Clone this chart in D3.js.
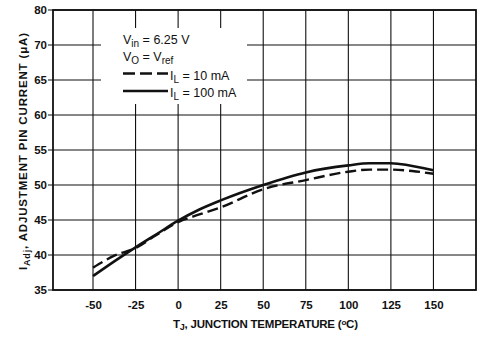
<!DOCTYPE html>
<html>
<head>
<meta charset="utf-8">
<script src="https://cdn.jsdelivr.net/npm/d3@7"></script>
<style>
  html, body { margin: 0; padding: 0; background: #fff; }
  svg { display: block; }
  text { font-family: "Liberation Sans", Arial, Helvetica, sans-serif; fill: #111; }
</style>
</head>
<body>
<svg id="chart" width="483" height="338"></svg>
<script>
// ---- data ----
const xTicks = [-50, -25, 0, 25, 50, 75, 100, 125, 150];
const xTickLabels = ["-50", "-25", "0", "25", "50", "75", "100", "125", "150"];
const yTicks = [35, 40, 45, 50, 55, 60, 65, 70, 75];
const yTickLabels = ["35", "40", "45", "50", "55", "60", "65", "70", "80"];

const temps100 = [-50, -37.5, -25, -12.5, 0, 12.5, 25, 50, 75, 100, 112.5, 125, 130, 150];
const iadj100  = [37.0, 39.1, 41.1, 43.0, 44.9, 46.5, 47.8, 50.0, 51.8, 52.8, 53.1, 53.1, 53.0, 52.1];

const temps10 = [-50, -37.5, -25, -12.5, 0, 12.5, 25, 50, 75, 100, 112.5, 125, 137.5, 150];
const iadj10  = [38.2, 39.9, 41.0, 42.9, 44.7, 45.8, 46.8, 49.4, 50.7, 51.9, 52.2, 52.2, 52.0, 51.6];

const seriesNames = ["10 mA", "100 mA"];

// ---- layout ----
const svg = d3.select("#chart");
const L = 53, R = 476, T = 10, B = 290;
const x = d3.scaleLinear().domain([-73.5, 175]).range([L, R]);
const y = d3.scaleLinear().domain([35, 75]).range([B, T]);

// gridlines
const grid = svg.append("g").attr("stroke", "#111").attr("stroke-width", 1.1);
grid.selectAll("line.v").data(xTicks).join("line")
  .attr("x1", d => x(d)).attr("x2", d => x(d)).attr("y1", T).attr("y2", B);
grid.selectAll("line.h").data(yTicks).join("line")
  .attr("x1", L - 5).attr("x2", R).attr("y1", d => y(d)).attr("y2", d => y(d));

// frame
svg.append("rect").attr("x", L).attr("y", T).attr("width", R - L).attr("height", B - T)
  .attr("fill", "none").attr("stroke", "#111").attr("stroke-width", 1.8);

// y axis labels
const yAxis = d3.axisLeft(y).tickValues(yTicks)
  .tickFormat((d, i) => yTickLabels[i]).tickSize(0).tickPadding(6);
const ya = svg.append("g").attr("transform", `translate(${L},0)`).call(yAxis);
ya.select(".domain").remove();
ya.selectAll("text").attr("font-size", 11.5).attr("font-weight", "bold")
  .attr("font-family", "'Liberation Sans', Arial, sans-serif").attr("fill", "#111");

// x axis labels
const xAxis = d3.axisBottom(x).tickValues(xTicks)
  .tickFormat((d, i) => xTickLabels[i]).tickSize(0).tickPadding(11);
const xa = svg.append("g").attr("transform", `translate(0,${B})`).call(xAxis);
xa.select(".domain").remove();
xa.selectAll("text").attr("font-size", 11.5).attr("font-weight", "bold")
  .attr("font-family", "'Liberation Sans', Arial, sans-serif").attr("fill", "#111");

// legend background
svg.append("rect").attr("x", 101).attr("y", 28).attr("width", 146).attr("height", 76).attr("fill", "#fff");

// curves
const line = d3.line().x(d => x(d[0])).y(d => y(d[1])).curve(d3.curveMonotoneX);
svg.append("path").datum(d3.zip(temps10, iadj10)).attr("d", line)
  .attr("fill", "none").attr("stroke", "#111").attr("stroke-width", 2.4).attr("stroke-dasharray", "11,5");
svg.append("path").datum(d3.zip(temps100, iadj100)).attr("d", line)
  .attr("fill", "none").attr("stroke", "#111").attr("stroke-width", 2.6);

// legend
const lg = svg.append("g").attr("font-size", 12.5);
const t1 = lg.append("text").attr("x", 123).attr("y", 44);
t1.append("tspan").text("V");
t1.append("tspan").attr("font-size", 10).attr("dy", 3).text("in");
t1.append("tspan").attr("dy", -3).text(" = 6.25 V");
const t2 = lg.append("text").attr("x", 123).attr("y", 61);
t2.append("tspan").text("V");
t2.append("tspan").attr("font-size", 10).attr("dy", 3).text("O");
t2.append("tspan").attr("dy", -3).text(" = V");
t2.append("tspan").attr("font-size", 10).attr("dy", 3).text("ref");

lg.append("line").attr("x1", 123).attr("x2", 168).attr("y1", 73.5).attr("y2", 73.5)
  .attr("stroke", "#111").attr("stroke-width", 2.4).attr("stroke-dasharray", "12,5");
lg.append("line").attr("x1", 123).attr("x2", 168).attr("y1", 91).attr("y2", 91)
  .attr("stroke", "#111").attr("stroke-width", 2.6);
[[80, seriesNames[0]], [97, seriesNames[1]]].forEach(([yy, name]) => {
  const t = lg.append("text").attr("x", 170).attr("y", yy);
  t.append("tspan").text("I");
  t.append("tspan").attr("font-size", 10).attr("dy", 3).text("L");
  t.append("tspan").attr("dy", -3).text(" = " + name);
});

// axis titles
function fitWidth(sel, target) {
  const len = sel.node().getComputedTextLength();
  const n = sel.text().length;
  sel.attr("letter-spacing", ((target - len) / (n - 1)).toFixed(3));
}
const xt = svg.append("text").attr("x", 173).attr("y", 328).attr("font-size", 11.5)
  .attr("font-weight", "bold");
xt.append("tspan").text("T");
xt.append("tspan").attr("font-size", 9).attr("dy", 2).text("J");
xt.append("tspan").attr("dy", -2).text(", JUNCTION TEMPERATURE (");
xt.append("tspan").attr("font-size", 8).attr("dy", -3).text("o");
xt.append("tspan").attr("dy", 3).text("C)");
fitWidth(xt, 185);

const yt = svg.append("text").attr("transform", "translate(27,270) rotate(-90)")
  .attr("font-size", 11.5).attr("font-weight", "bold");
yt.append("tspan").text("I");
yt.append("tspan").attr("font-size", 9).attr("dy", 3).text("Adj");
yt.append("tspan").attr("dy", -3).text(", ADJUSTMENT PIN CURRENT (μA)");
fitWidth(yt, 237);
</script>
</body>
</html>
